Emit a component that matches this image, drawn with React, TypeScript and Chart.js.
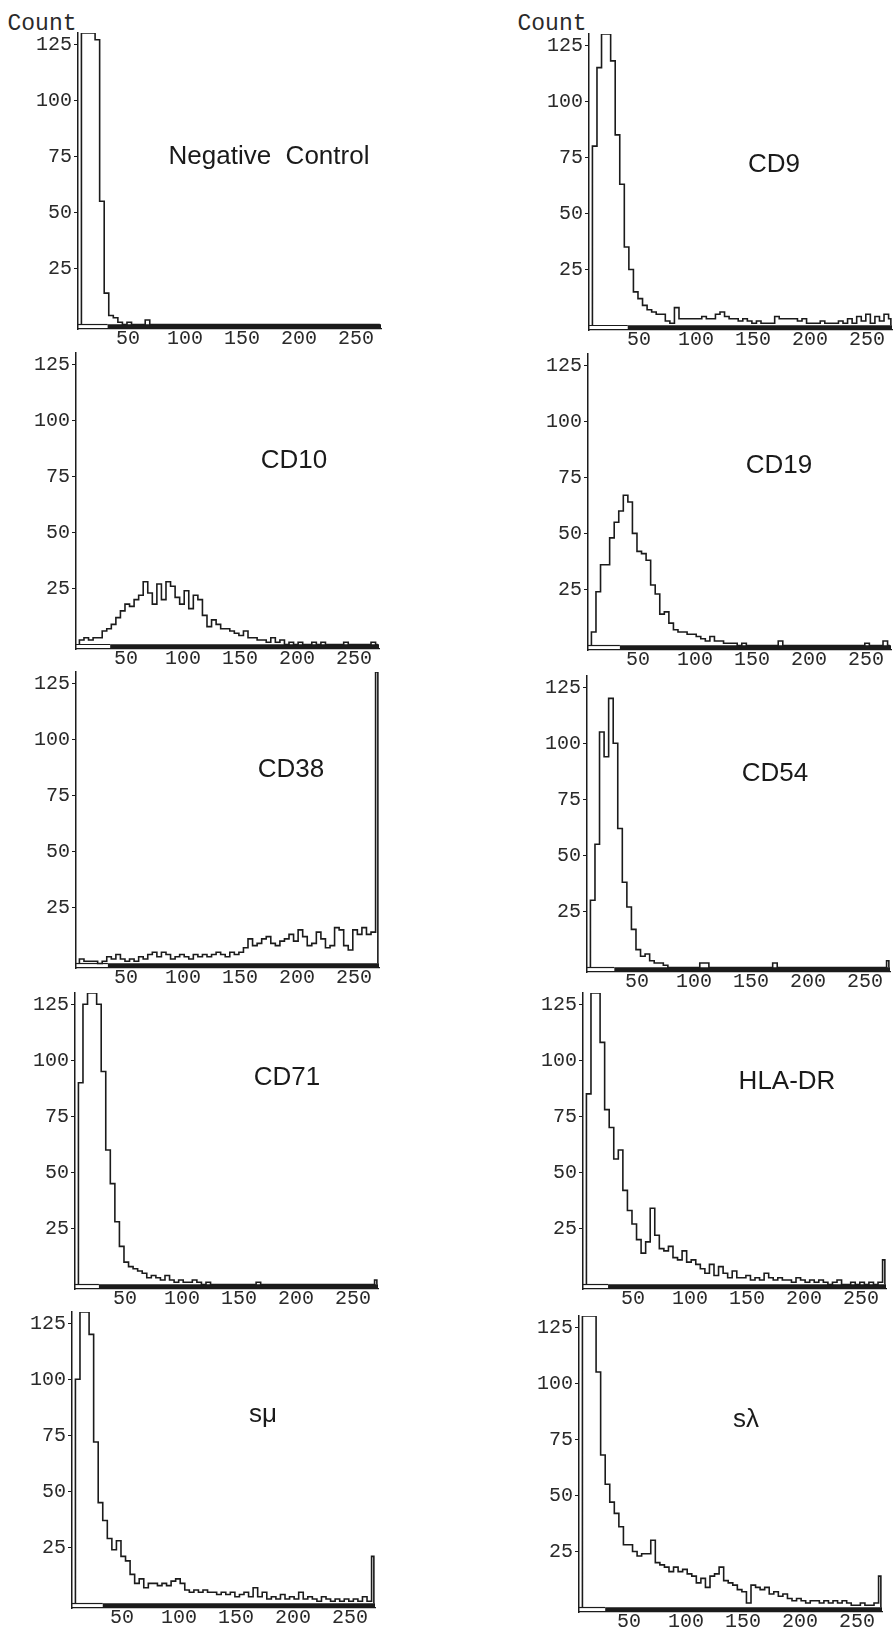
import React, { useEffect, useRef } from "react";
import { Chart, registerables } from "chart.js";

Chart.register(...registerables);

// ---------------- data ----------------
// fluorescence channel bin edges (last bin = overflow channel)
const binEdges = [
  9, 13, 17, 21, 25, 29, 33, 37, 41, 45, 49, 53, 57, 61, 65, 69, 73, 77, 81, 85,
  89, 93, 97, 101, 105, 109, 113, 117, 121, 125, 129, 133, 137, 141, 145, 149, 153, 157, 161, 165,
  169, 173, 177, 181, 185, 189, 193, 197, 201, 205, 209, 213, 217, 221, 225, 229, 233, 237, 241, 245,
  249, 253, 257, 261, 265, 269, 271,
];
const xTickValues = [50, 100, 150, 200, 250];
const yTickValues = [25, 50, 75, 100, 125];
const xRange = [6, 272];
const yRange = [-2, 130];
const axisTitle = "Count";

const panelTitles = ["Negative  Control", "CD9", "CD10", "CD19", "CD38", "CD54", "CD71", "HLA-DR", "sμ", "sλ"];

const negativeControlCounts = [
  130, 130, 130, 127, 55, 14, 4, 3, 1, 0,
  1, 0, 0, 0, 2, 0, 0, 0, 0, 0,
  0, 0, 0, 0, 0, 0, 0, 0, 0, 0,
  0, 0, 0, 0, 0, 0, 0, 0, 0, 0,
  0, 0, 0, 0, 0, 0, 0, 0, 0, 0,
  0, 0, 0, 0, 0, 0, 0, 0, 0, 0,
  0, 0, 0, 0, 0, 0,
];
const cd9Counts = [
  80, 115, 130, 130, 118, 85, 63, 35, 25, 15,
  12, 9, 7, 6, 5, 5, 2, 1, 8, 3,
  3, 3, 3, 3, 4, 3, 3, 5, 6, 4,
  3, 3, 2, 3, 2, 1, 2, 1, 1, 1,
  4, 3, 3, 3, 3, 2, 3, 1, 1, 1,
  2, 1, 1, 1, 2, 1, 3, 1, 4, 2,
  5, 1, 4, 2, 5, 3,
];
const cd10Counts = [
  2, 3, 2, 3, 3, 6, 7, 9, 12, 15,
  18, 17, 20, 22, 28, 23, 18, 27, 20, 28,
  26, 21, 18, 24, 16, 22, 20, 13, 8, 11,
  9, 7, 7, 6, 5, 4, 6, 3, 3, 2,
  2, 1, 3, 1, 2, 0, 1, 0, 1, 0,
  0, 1, 0, 1, 0, 0, 0, 0, 1, 0,
  0, 0, 0, 0, 1, 0,
];
const cd19Counts = [
  6, 24, 36, 36, 48, 55, 60, 67, 64, 50,
  42, 41, 38, 27, 23, 14, 15, 10, 7, 6,
  6, 5, 5, 4, 3, 2, 4, 2, 2, 1,
  1, 1, 0, 1, 0, 0, 0, 0, 0, 0,
  0, 2, 0, 0, 0, 0, 0, 0, 0, 0,
  0, 0, 0, 0, 0, 0, 0, 0, 0, 0,
  1, 0, 0, 0, 2, 0,
];
const cd38Counts = [
  2, 1, 1, 1, 0, 1, 3, 2, 4, 2,
  1, 2, 1, 3, 2, 4, 5, 3, 5, 4,
  2, 3, 4, 3, 2, 4, 3, 4, 3, 4,
  5, 4, 3, 5, 4, 5, 7, 11, 8, 9,
  11, 12, 9, 8, 10, 11, 13, 10, 15, 12,
  8, 9, 14, 11, 7, 8, 16, 15, 8, 6,
  15, 13, 16, 13, 14, 130,
];
const cd54Counts = [
  30, 55, 105, 94, 120, 100, 62, 38, 27, 17,
  8, 5, 6, 3, 2, 2, 1, 0, 0, 0,
  0, 0, 0, 0, 2, 2, 0, 0, 0, 0,
  0, 0, 0, 0, 0, 0, 0, 0, 0, 0,
  2, 0, 0, 0, 0, 0, 0, 0, 0, 0,
  0, 0, 0, 0, 0, 0, 0, 0, 0, 0,
  0, 0, 0, 0, 0, 3,
];
const cd71Counts = [
  90, 125, 130, 130, 125, 95, 60, 45, 28, 17,
  10, 8, 7, 6, 5, 3, 4, 3, 2, 4,
  2, 1, 2, 1, 1, 2, 1, 0, 1, 0,
  0, 0, 0, 0, 0, 0, 0, 0, 0, 1,
  0, 0, 0, 0, 0, 0, 0, 0, 0, 0,
  0, 0, 0, 0, 0, 0, 0, 0, 0, 0,
  0, 0, 0, 0, 0, 2,
];
const hlaDrCounts = [
  85, 130, 130, 108, 78, 70, 56, 60, 42, 33,
  27, 20, 14, 19, 34, 22, 16, 15, 17, 12,
  11, 15, 10, 11, 9, 7, 5, 9, 4, 8,
  5, 3, 6, 3, 3, 4, 2, 3, 2, 5,
  3, 2, 3, 2, 2, 1, 3, 2, 1, 2,
  1, 2, 1, 0, 1, 2, 0, 0, 1, 0,
  1, 0, 1, 0, 1, 11,
];
const sMuCounts = [
  100, 130, 130, 120, 72, 45, 37, 29, 24, 28,
  21, 19, 13, 9, 11, 7, 9, 9, 8, 9,
  8, 10, 11, 9, 6, 5, 6, 5, 6, 5,
  5, 4, 5, 4, 5, 3, 4, 5, 3, 7,
  3, 5, 2, 3, 2, 4, 2, 3, 2, 5,
  2, 3, 2, 1, 3, 2, 1, 2, 1, 2,
  1, 2, 1, 3, 1, 21,
];
const sLambdaCounts = [
  130, 130, 130, 105, 68, 55, 47, 42, 36, 28,
  28, 25, 23, 24, 24, 30, 20, 19, 18, 16,
  18, 16, 17, 15, 14, 11, 13, 9, 14, 15,
  18, 12, 11, 10, 8, 7, 2, 10, 9, 8,
  9, 6, 7, 5, 6, 4, 3, 4, 3, 2,
  3, 3, 2, 3, 2, 3, 2, 3, 2, 1,
  1, 2, 1, 1, 2, 14,
];

const panelCounts = [
  negativeControlCounts, cd9Counts, cd10Counts, cd19Counts, cd38Counts,
  cd54Counts, cd71Counts, hlaDrCounts, sMuCounts, sLambdaCounts,
];
// start of the positive-region marker (channel)
const gateStarts = [32, 40, 36, 34, 34, 30, 27, 28, 33, 29];

// ---------------- layout ----------------
const INK = "#1b1b1b";
const TEXT = "#2a2a2a";
const MONO = "'Liberation Mono', 'DejaVu Sans Mono', monospace";
const SANS = "'Liberation Sans', Arial, sans-serif";
const Y_AXIS_W = 58;
const X_AXIS_H = 28;
const PAD_TOP = 4;
const PAD_RIGHT = 1;
const PLOT_W = 303;
const PLOT_H = 296;

const panelLayout = [
  { axisX: 78, zeroY: 325, titleX: 269, titleBase: 164 },
  { axisX: 589, zeroY: 326, titleX: 774, titleBase: 172 },
  { axisX: 76, zeroY: 645, titleX: 294, titleBase: 468 },
  { axisX: 588, zeroY: 646, titleX: 779, titleBase: 473 },
  { axisX: 76, zeroY: 964, titleX: 291, titleBase: 777 },
  { axisX: 587, zeroY: 968, titleX: 775, titleBase: 781 },
  { axisX: 75, zeroY: 1285, titleX: 287, titleBase: 1085 },
  { axisX: 583, zeroY: 1285, titleX: 787, titleBase: 1089 },
  { axisX: 72, zeroY: 1604, titleX: 263, titleBase: 1422 },
  { axisX: 579, zeroY: 1608, titleX: 746, titleBase: 1427 },
];
const countLabelPos = [
  { cx: 42, base: 31 },
  { cx: 552, base: 31 },
];

function Histogram({ counts, gateStart, left, top }: { counts: number[]; gateStart: number; left: number; top: number }) {
  const ref = useRef<HTMLCanvasElement | null>(null);
  const width = Y_AXIS_W + PLOT_W + PAD_RIGHT;
  const height = PAD_TOP + PLOT_H + X_AXIS_H;

  useEffect(() => {
    if (!ref.current) return;
    const outline: { x: number; y: number }[] = [{ x: binEdges[0], y: 0 }];
    counts.forEach((v, i) => {
      outline.push({ x: binEdges[i], y: v });
      outline.push({ x: binEdges[i + 1], y: v });
    });
    outline.push({ x: binEdges[counts.length], y: 0 });

    const tickFont = { family: MONO, size: 20, lineHeight: 1 };
    const chart = new Chart(ref.current, {
      type: "line",
      data: {
        datasets: [
          {
            data: outline,
            borderColor: INK,
            borderWidth: 1.6,
            pointRadius: 0,
            fill: false,
            tension: 0,
          },
          {
            data: [
              { x: xRange[0], y: 0 },
              { x: gateStart, y: 0 },
            ],
            borderColor: INK,
            borderWidth: 1.2,
            pointRadius: 0,
            fill: false,
          },
          {
            data: [
              { x: gateStart, y: -1 },
              { x: xRange[1], y: -1 },
            ],
            borderColor: INK,
            borderWidth: 5,
            borderCapStyle: "butt",
            pointRadius: 0,
            fill: false,
          },
        ],
      },
      options: {
        animation: false,
        responsive: false,
        devicePixelRatio: 1,
        events: [],
        layout: { padding: { top: PAD_TOP, right: PAD_RIGHT, left: 0, bottom: 0 } },
        plugins: { legend: { display: false }, tooltip: { enabled: false }, title: { display: false } },
        scales: {
          x: {
            type: "linear",
            min: xRange[0],
            max: xRange[1],
            afterBuildTicks: (s: any) => {
              s.ticks = xTickValues.map((v) => ({ value: v }));
            },
            afterFit: (s: any) => {
              s.height = X_AXIS_H;
              s.paddingLeft = 0;
              s.paddingRight = 0;
            },
            grid: { display: true, drawOnChartArea: false, drawTicks: false, color: INK },
            border: { display: true, color: INK, width: 1.2 },
            ticks: { color: TEXT, font: tickFont, padding: 0, maxRotation: 0, autoSkip: false },
          },
          y: {
            type: "linear",
            min: yRange[0],
            max: yRange[1],
            afterBuildTicks: (s: any) => {
              s.ticks = yTickValues.map((v) => ({ value: v }));
            },
            afterFit: (s: any) => {
              s.width = Y_AXIS_W;
              s.paddingTop = 0;
              s.paddingBottom = 0;
            },
            grid: { display: true, drawOnChartArea: false, drawTicks: true, tickLength: 4, color: INK, lineWidth: 1 },
            border: { display: true, color: INK, width: 1.5 },
            ticks: { color: TEXT, font: tickFont, padding: 2, autoSkip: false },
          },
        },
      } as any,
    });
    return () => chart.destroy();
  }, [counts, gateStart]);

  return (
    <canvas
      ref={ref}
      width={width}
      height={height}
      style={{ position: "absolute", left, top, width, height }}
    />
  );
}

export default function App() {
  return (
    <div
      style={{
        position: "absolute",
        left: 0,
        top: 0,
        width: 893,
        height: 1634,
        background: "#ffffff",
        overflow: "hidden",
      }}
    >
      {countLabelPos.map((p, i) => (
        <div
          key={"count" + i}
          style={{
            position: "absolute",
            left: p.cx,
            top: p.base - 17.6,
            transform: "translateX(-50%)",
            fontFamily: MONO,
            fontSize: 23,
            lineHeight: "23px",
            color: TEXT,
            whiteSpace: "pre",
          }}
        >
          {axisTitle}
        </div>
      ))}
      {panelLayout.map((p, i) => (
        <Histogram
          key={"h" + i}
          counts={panelCounts[i]}
          gateStart={gateStarts[i]}
          left={p.axisX - Y_AXIS_W}
          top={p.zeroY - PLOT_H}
        />
      ))}
      {panelLayout.map((p, i) => (
        <div
          key={"t" + i}
          style={{
            position: "absolute",
            left: p.titleX,
            top: p.titleBase - 22,
            transform: "translateX(-50%)",
            fontFamily: SANS,
            fontSize: 26,
            lineHeight: "26px",
            color: "#1a1a1a",
            whiteSpace: "pre",
          }}
        >
          {panelTitles[i]}
        </div>
      ))}
    </div>
  );
}
